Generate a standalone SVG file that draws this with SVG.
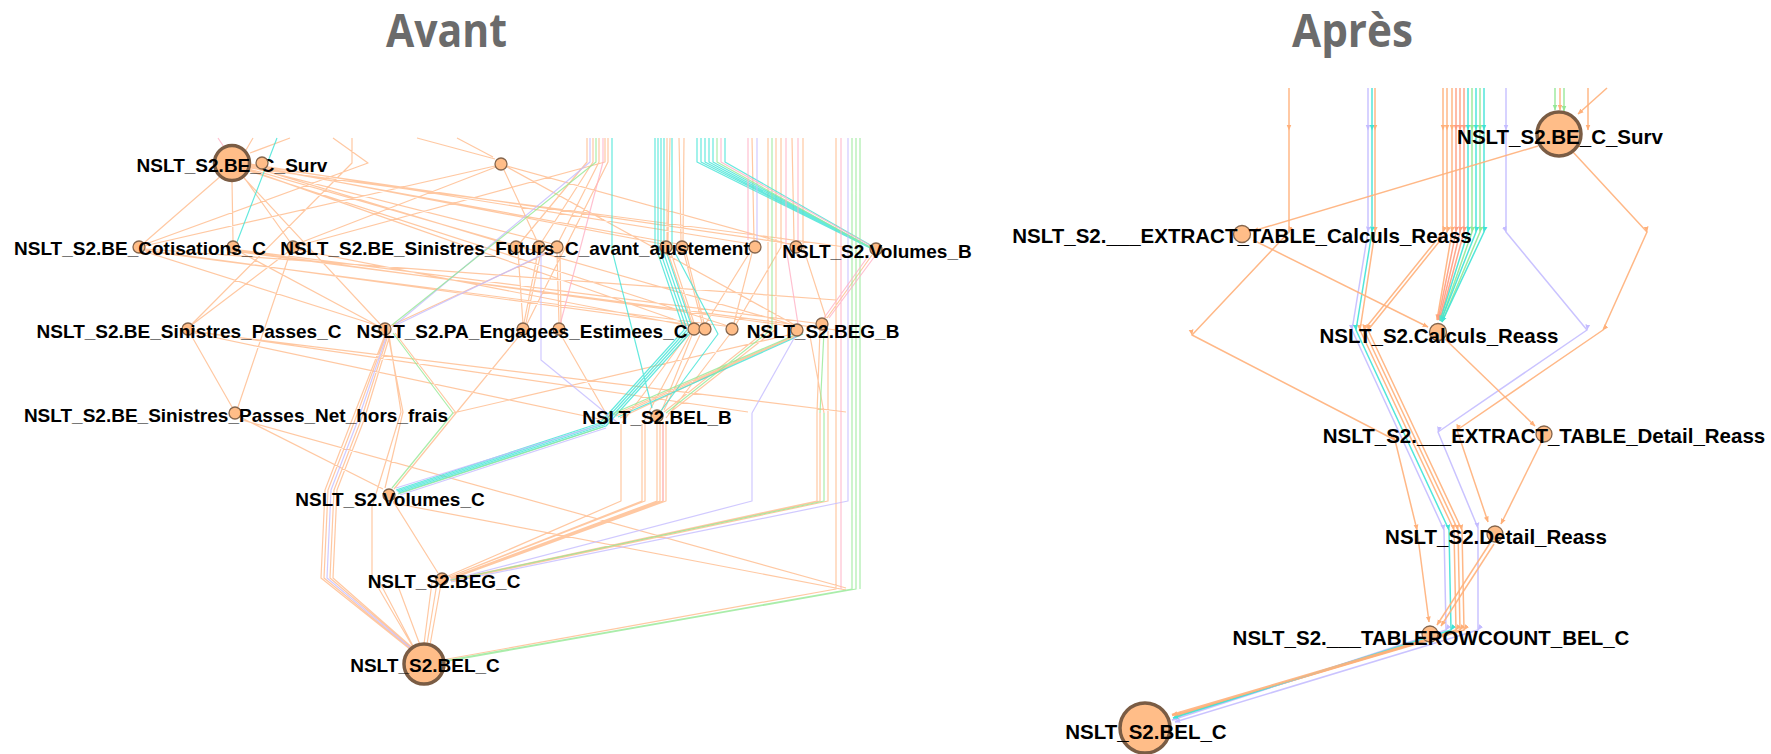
<svg xmlns="http://www.w3.org/2000/svg" width="1771" height="754" viewBox="0 0 1771 754">
<style>
.t{font-family:"Open Sans","Liberation Sans",sans-serif;font-weight:bold;font-size:46px;fill:#6b6b6b}
.l{font-family:"Liberation Sans",Arial,sans-serif;font-weight:bold;font-size:19px;text-anchor:middle;fill:#000}
.L{font-family:"Liberation Sans",Arial,sans-serif;font-weight:bold;font-size:20.5px;text-anchor:middle;fill:#000}
.n{fill:#ffbd88;stroke:#85654c;stroke-width:1.3}
.N{fill:#ffbd88;stroke:#7a5c44;stroke-width:3.5}
.o,.c,.p,.g,.k,.s{fill:none;stroke-width:1.2;stroke-linejoin:round}
.o{stroke:#ffb07a;stroke-opacity:.7}
.c{stroke:#3fe3d6;stroke-opacity:.8}
.p{stroke:#c4bcff;stroke-opacity:.8}
.g{stroke:#95e895;stroke-opacity:.8}
.k{stroke:#ffb0c4;stroke-opacity:.8}
.s{stroke:#ff9c80;stroke-opacity:.8}
.R{stroke-width:1.5;stroke-opacity:.9}
.ro{marker-mid:url(#ao);marker-end:url(#ao)}
.rc{marker-mid:url(#ac);marker-end:url(#ac)}
.rp{marker-mid:url(#ap);marker-end:url(#ap)}
.rg{marker-mid:url(#ag);marker-end:url(#ag)}
.rs{marker-mid:url(#as);marker-end:url(#as)}
</style>
<defs>
<marker id="ao" viewBox="0 0 10 10" refX="9" refY="5" markerWidth="6" markerHeight="6" markerUnits="userSpaceOnUse" orient="auto"><path d="M0,1 L10,5 L0,9 z" fill="#ffb07a"/></marker>
<marker id="ac" viewBox="0 0 10 10" refX="9" refY="5" markerWidth="6" markerHeight="6" markerUnits="userSpaceOnUse" orient="auto"><path d="M0,1 L10,5 L0,9 z" fill="#3fe3d6"/></marker>
<marker id="ap" viewBox="0 0 10 10" refX="9" refY="5" markerWidth="6" markerHeight="6" markerUnits="userSpaceOnUse" orient="auto"><path d="M0,1 L10,5 L0,9 z" fill="#c4bcff"/></marker>
<marker id="ag" viewBox="0 0 10 10" refX="9" refY="5" markerWidth="6" markerHeight="6" markerUnits="userSpaceOnUse" orient="auto"><path d="M0,1 L10,5 L0,9 z" fill="#95e895"/></marker>
<marker id="as" viewBox="0 0 10 10" refX="9" refY="5" markerWidth="6" markerHeight="6" markerUnits="userSpaceOnUse" orient="auto"><path d="M0,1 L10,5 L0,9 z" fill="#ff9c80"/></marker>
</defs>
<rect width="1771" height="754" fill="#fff"/>
<text class="t" x="386" y="47" textLength="121" lengthAdjust="spacingAndGlyphs">Avant</text>
<text class="t" x="1292" y="47" textLength="121" lengthAdjust="spacingAndGlyphs">Après</text>

<g id="connectors">
<!-- left panel -->
<path class="o" d="M253,138 L246,150 M290,138 L250,153 M333,138 L368,163 L143,245 M352,138 L352,163 L192,324 M417,138 L495,159 M457,138 L493,157
M222,175 L145,242 M232,181 L233,241 M243,176 L290,242 M244,178 L380,324
M249,166 L510,245 M249,167 L553,244 M250,165 L662,244 M250,166 L678,244 M250,164 L751,244 M250,165 L792,244 M250,168 L845,247 M249,170 L690,325 M249,171 L728,326 M249,169 L797,326
M496,167 L297,244 M495,166 L144,246 M504,170 L537,241 M507,166 L792,245 M507,167 L795,325
M587,138 L587,162 L520,243 M593,138 L593,162 L541,243 M599,138 L599,162 L558,243 M605,138 L605,162 L297,246 M608,138 L608,162 L527,324
M518,252 L523,324 M538,252 L524,323 M541,252 L526,323 M557,252 L559,323 M560,252 L561,323 M552,251 L390,326
M520,335 L456,413 M561,335 L612,424
M667,138 L667,241 M670,138 L668,241 M679,138 L681,241 M684,138 L683,241
M752,138 L754,241 M792,138 L794,241 M803,138 L803,247 L826,318
M752,253 L734,323 M750,252 L706,323 M668,253 L692,323 M671,253 L694,323 M684,253 L702,323 M686,253 L704,323
M768,138 L768,329 L664,412 M776,138 L776,329 L668,414 M781,138 L781,247 L735,326
M799,334 L614,415 M801,334 L616,416 M795,335 L620,418
M692,335 L662,410 M700,335 L664,410 M690,335 L643,423 M688,334 L622,423 M730,334 L666,418
M621,424 L621,501 L448,576 M642,424 L642,501 L449,577 M645,424 L645,501 L449,577 M657,421 L657,501 L450,578 M660,421 L660,501 L450,578 M663,421 L663,501 L451,578 M666,421 L666,501 L451,579
M817,413 L817,501 L450,580 M820,413 L820,501 L451,580 M828,413 L828,501 L451,581
M820,330 L817,413 M810,336 L824,413 M828,331 L828,413 M872,255 L827,318
M836,138 L836,589 L442,660
M194,331 L748,412 M194,333 L618,423 M194,332 L846,412
M145,250 L700,326 M145,251 L732,327 M240,251 L797,327 M240,250 L822,324 M299,250 L694,327 M145,249 L836,300 M240,252 L836,330
M393,503 L846,590 M453,413 L797,333 M242,420 L846,588
M432,582 L424,644 M437,583 L427,644 M441,584 L430,645 M377,577 L413,646 M398,586 L420,645
M393,501 L438,573 M242,418 L383,489 M191,335 L232,407 M290,253 L238,407 M288,252 L193,324
M146,252 L379,326 M240,252 L380,327
M385,335 L352,420 L325,490 L321,578 L411,650 M386,335 L355,420 L328,490 L324,578 L412,650 M388,335 L361,420 L334,490 L330,578 L414,650 M390,335 L364,420 L337,490 L333,578 L415,650
M388,335 L403,412 L385,488 M389,335 L401,412 L372,507 L372,577 L413,647 M395,333 L456,413 L394,489"/>
<path class="c" d="M612,138 L612,250 L652,408 M277,138 L237,242
M655,138 L655,245 L684,330 L600,423 L396,490 M658,138 L658,245 L687,330 L602,424 L397,491 M661,138 L661,245 L690,330 L604,425 L398,492 M664,138 L664,245 L693,330 L606,426 L399,493
M672,138 L672,247 L718,334 L660,412
M697,138 L697,162 L868,247 M701,138 L701,162 L869,247 M705,138 L705,162 L870,248 M709,138 L709,162 L871,248 M713,138 L713,162 L872,248 M725,138 L725,162 L872,246
M803,334 L618,417"/>
<path class="p" d="M590,138 L590,162 L395,325 M548,252 L392,327 M541,252 L541,360 L618,423 M757,138 L757,241
M387,335 L358,420 L331,490 L327,578 L413,650 M752,413 L752,501 L450,580 M797,333 L752,413 M848,138 L848,413 L848,501 L451,582 M600,425 L396,488 M606,428 L400,495"/>
<path class="g" d="M596,138 L596,162 L392,325 M772,138 L772,329 L666,413 M797,334 L612,414 M824,331 L820,413 M824,413 L824,501 L451,580
M717,138 L717,162 L873,249 M852,138 L852,589 L443,661 M856,138 L856,589 L443,662 M860,138 L860,589 M393,333 L453,413 L392,488 M603,427 L398,494"/>
<path class="k" d="M218,138 L224,147 M603,138 L603,162 L560,325 M721,138 L721,162 L873,247 M748,138 L748,240 M786,138 L786,247 L798,324 M798,138 L798,241 M841,138 L841,589 M869,255 L824,318 M875,256 L829,318 M663,424 L663,501"/>

<!-- right panel -->
<path class="o R ro" d="M1289,88 L1289,130 L1289,232 L1192,335 L1395,440 L1417,530 L1429,622"/>
<path class="o R ro" d="M1375,88 L1375,130 L1375,232 L1360,330 L1454,530 L1456,630 L1174,717"/>
<path class="o R ro" d="M1443,88 L1443,130 L1443,232 L1364,330 L1458,530 L1460,630 L1175,716"/>
<path class="o R ro" d="M1447,88 L1447,130 L1447,232 L1368,330 L1462,530 L1464,630 L1176,715"/>
<path class="p R rp" d="M1368,88 L1368,130 L1368,232 L1352,330 L1444,530 L1446,630 L1172,720"/>
<path class="c R rc" d="M1372,88 L1372,130 L1372,232 L1356,330 L1449,530 L1451,630 L1173,718"/>
<path class="o R ro" d="M1452,88 L1452,130 L1452,232 L1437,320"/>
<path class="s R rs" d="M1456,88 L1456,130 L1456,232 L1438,320"/>
<path class="s R rs" d="M1460,88 L1460,130 L1460,232 L1439,320"/>
<path class="s R rs" d="M1464,88 L1464,130 L1464,232 L1440,320"/>
<path class="c R rc" d="M1468,88 L1468,130 L1468,232 L1440,321"/>
<path class="g R rg" d="M1472,88 L1472,130 L1472,232 L1441,321"/>
<path class="c R rc" d="M1476,88 L1476,130 L1476,232 L1441,321"/>
<path class="g R rg" d="M1480,88 L1480,130 L1480,232 L1442,322"/>
<path class="c R rc" d="M1484,88 L1484,130 L1484,232 L1442,322"/>
<path class="p R rp" d="M1506,88 L1506,130 L1506,232 L1587,330 L1438,432 L1478,528 L1478,630 L1175,722"/>
<path class="o R ro" d="M1573,152 L1647,232 L1603,330 L1457,430 L1488,522"/>
<path class="o R ro" d="M1588,88 L1588,130"/>
<path class="o R ro" d="M1607,88 L1578,114"/>
<path class="g R rg" d="M1555,88 L1555,110"/>
<path class="g R rg" d="M1564,88 L1564,111"/>
<path class="o R ro" d="M1560,88 L1560,110"/>
<path class="o R ro" d="M1538,146 L1253,231"/>
<path class="o R ro" d="M1253,240 L1428,327"/>
<path class="o R ro" d="M1445,339 L1535,426"/>
<path class="o R ro" d="M1541,443 L1501,524"/>
<path class="o R ro" d="M1490,543 L1437,625"/>
<path class="o R ro" d="M1494,544 L1441,626"/>
<path class="o R ro" d="M1423,641 L1172,715" style="stroke-width:2.4"/>
</g>

<g id="n-l-becsurv"><circle class="N" cx="232" cy="163" r="17.5"/><text class="l" x="232" y="172">NSLT_S2.BE_C_Surv</text></g>
<g id="n-l-a2"><circle class="n" cx="262" cy="163" r="6"/></g>
<g id="n-l-b"><circle class="n" cx="501" cy="164" r="6"/></g>
<g id="n-l-c2"><circle class="n" cx="233" cy="247" r="6"/></g>
<g id="n-l-d"><circle class="n" cx="293" cy="247" r="6"/></g>
<g id="n-l-e2"><circle class="n" cx="539" cy="247" r="6"/></g>
<g id="n-l-e3"><circle class="n" cx="557" cy="247" r="6"/></g>
<g id="n-l-e4"><circle class="n" cx="666" cy="247" r="6"/></g>
<g id="n-l-e5"><circle class="n" cx="682" cy="247" r="6"/></g>
<g id="n-l-e6"><circle class="n" cx="755" cy="247" r="6"/></g>
<g id="n-l-e7"><circle class="n" cx="796" cy="247" r="6"/></g>
<g id="n-l-g"><circle class="n" cx="385" cy="329" r="6"/></g>
<g id="n-l-h2"><circle class="n" cx="559" cy="329" r="6"/></g>
<g id="n-l-h3"><circle class="n" cx="694" cy="329" r="6"/></g>
<g id="n-l-h4"><circle class="n" cx="705" cy="329" r="6"/></g>
<g id="n-l-h5"><circle class="n" cx="732" cy="329" r="6"/></g>
<g id="n-l-h6"><circle class="n" cx="797" cy="330" r="6"/></g>
<g id="n-l-cotis"><circle class="n" cx="139" cy="247" r="6"/><text class="l" x="140" y="255">NSLT_S2.BE_Cotisations_C</text></g>
<g id="n-l-sinfut"><circle class="n" cx="516" cy="247" r="6"/><text class="l" x="515" y="255">NSLT_S2.BE_Sinistres_Futurs_C_avant_ajustement</text></g>
<g id="n-l-volb"><circle class="n" cx="876" cy="249" r="6"/><text class="l" x="877" y="258">NSLT_S2.Volumes_B</text></g>
<g id="n-l-sinpas"><circle class="n" cx="188" cy="329" r="6"/><text class="l" x="189" y="338">NSLT_S2.BE_Sinistres_Passes_C</text></g>
<g id="n-l-pa"><circle class="n" cx="523" cy="329" r="6"/><text class="l" x="522" y="338">NSLT_S2.PA_Engagees_Estimees_C</text></g>
<g id="n-l-begb"><circle class="n" cx="822" cy="324" r="6"/><text class="l" x="823" y="338">NSLT_S2.BEG_B</text></g>
<g id="n-l-nhf"><circle class="n" cx="235" cy="413" r="6"/><text class="l" x="236" y="422">NSLT_S2.BE_Sinistres_Passes_Net_hors_frais</text></g>
<g id="n-l-belb"><circle class="n" cx="657" cy="416" r="6"/><text class="l" x="657" y="424">NSLT_S2.BEL_B</text></g>
<g id="n-l-volc"><circle class="n" cx="389" cy="495" r="6"/><text class="l" x="390" y="506">NSLT_S2.Volumes_C</text></g>
<g id="n-l-begc"><circle class="n" cx="442" cy="579" r="6"/><text class="l" x="444" y="588">NSLT_S2.BEG_C</text></g>
<g id="n-l-belc"><circle class="N" cx="424" cy="664" r="20"/><text class="l" x="425" y="672">NSLT_S2.BEL_C</text></g>

<g id="n-r-becsurv"><circle class="N" cx="1559" cy="134" r="22"/><text class="L" x="1560" y="144">NSLT_S2.BE_C_Surv</text></g>
<g id="n-r-extcalc"><circle class="n" cx="1242" cy="234" r="8.5"/><text class="L" x="1242" y="243">NSLT_S2.___EXTRACT_TABLE_Calculs_Reass</text></g>
<g id="n-r-calc"><circle class="n" cx="1438" cy="332" r="8.5"/><text class="L" x="1439" y="343">NSLT_S2.Calculs_Reass</text></g>
<g id="n-r-extdet"><circle class="n" cx="1544" cy="434" r="8"/><text class="L" x="1544" y="443">NSLT_S2.___EXTRACT_TABLE_Detail_Reass</text></g>
<g id="n-r-det"><circle class="n" cx="1495" cy="534" r="8"/><text class="L" x="1496" y="544">NSLT_S2.Detail_Reass</text></g>
<g id="n-r-trc"><circle class="n" cx="1430" cy="634" r="8"/><text class="L" x="1431" y="645">NSLT_S2.___TABLEROWCOUNT_BEL_C</text></g>
<g id="n-r-belc"><circle class="N" cx="1145" cy="728" r="25"/><text class="L" x="1146" y="739">NSLT_S2.BEL_C</text></g>
</svg>
